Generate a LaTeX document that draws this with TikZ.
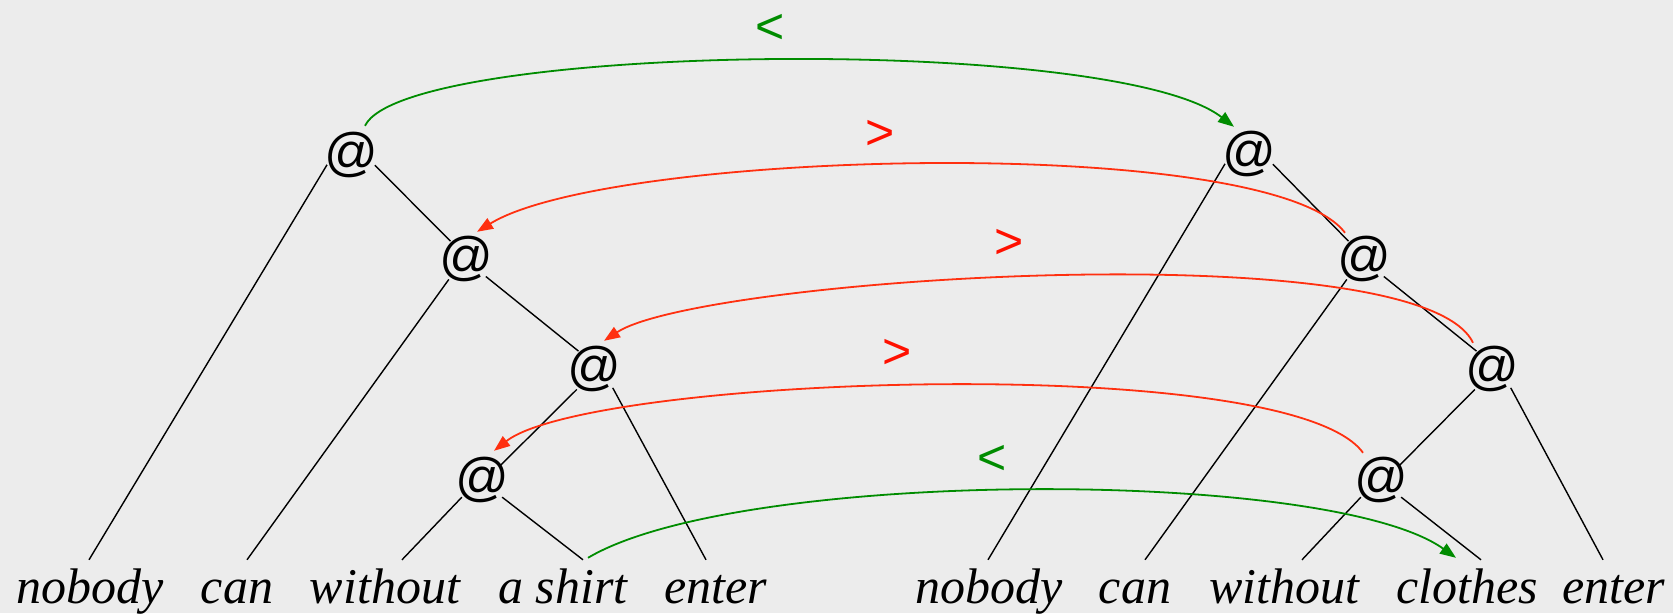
\documentclass[tikz,border=0pt]{standalone}
\usepackage{fontspec}
\newfontfamily\libserif{Liberation Serif}
\newfontfamily\libsans{Liberation Sans}
\usetikzlibrary{arrows.meta}
\definecolor{bg}{RGB}{236,236,236}
\definecolor{grn}{RGB}{0,140,0}
\definecolor{redarr}{RGB}{255,48,16}
\definecolor{redlbl}{RGB}{255,16,0}
\newcommand{\atsign}{\makebox[0pt]{\raisebox{-0.258em}{@}}}
\begin{document}
\begin{tikzpicture}[x=1pt,y=-1pt,
  atnode/.style={circle,inner sep=0pt,minimum size=50pt,text height=0pt,text depth=0pt,font=\libsans\fontsize{53}{53}\selectfont},
  wordnode/.style={inner sep=0pt,text height=34pt,text depth=12pt,anchor=base,font=\libserif\itshape\fontsize{50}{50}\selectfont},
  lbl/.style={inner sep=0pt,font=\libsans\fontsize{50}{50}\selectfont},
  tree/.style={line width=1.4pt,black},
  garrow/.style={draw=grn,line width=1.8pt,-{Triangle[length=16pt,width=12pt,fill=grn]}},
  rarrow/.style={draw=redarr,line width=1.8pt,-{Triangle[length=16pt,width=12pt,fill=redarr]}}]
\fill[bg] (0,0) rectangle (1673,613);
\useasboundingbox (0,0) rectangle (1673,613);

% left tree
\node[atnode] (A1) at (351,157) {\atsign};
\node[atnode] (A2) at (466,261) {\atsign};
\node[atnode] (A3) at (594,371) {\atsign};
\node[atnode] (A4) at (482,482) {\atsign};
\node[wordnode] (L1) at (90,603) {nobody};
\node[wordnode] (L2) at (237,603) {can};
\node[wordnode] (L3) at (385,603) {without};
\node[wordnode] (L4) at (563,603) {a shirt};
\node[wordnode] (L5) at (716,603) {enter};

% right tree
\node[atnode] (B1) at (1249,156) {\atsign};
\node[atnode] (B2) at (1364,261) {\atsign};
\node[atnode] (B3) at (1492,371) {\atsign};
\node[atnode] (B4) at (1381,482) {\atsign};
\node[wordnode] (R1) at (989,603) {nobody};
\node[wordnode] (R2) at (1135,603) {can};
\node[wordnode] (R3) at (1284,603) {without};
\node[wordnode] (R4) at (1467,603) {clothes};
\node[wordnode] (R5) at (1614,603) {enter};

% labels
\node[lbl,text=grn] (g1) at (770,29) {<};
\node[lbl,text=redlbl] (r1) at (880,135) {>};
\node[lbl,text=redlbl] (r2) at (1009,244) {>};
\node[lbl,text=redlbl] (r3) at (897,354) {>};
\node[lbl,text=grn] (g2) at (992,460) {<};

% tree edges (left)
\draw[tree] (A1.198) -- ([xshift=-1pt,yshift=9pt]L1.north);
\draw[tree] (A1.341) -- (A2.128);
\draw[tree] (A2.227) -- ([xshift=10pt,yshift=9pt]L2.north);
\draw[tree] (A2.322) -- (A3.128);
\draw[tree] (A3.227) -- (A4.42);
\draw[tree] (A3.318) -- ([xshift=-10pt,yshift=9pt]L5.north);
\draw[tree] (A4.217) -- ([xshift=17pt,yshift=9pt]L3.north);
\draw[tree] (A4.323) -- ([xshift=20pt,yshift=9pt]L4.north);

% tree edges (right)
\draw[tree] (B1.198) -- ([xshift=-1pt,yshift=9pt]R1.north);
\draw[tree] (B1.341) -- (B2.128);
\draw[tree] (B2.227) -- ([xshift=10pt,yshift=9pt]R2.north);
\draw[tree] (B2.322) -- (B3.128);
\draw[tree] (B3.227) -- (B4.42);
\draw[tree] (B3.318) -- ([xshift=-11pt,yshift=9pt]R5.north);
\draw[tree] (B4.217) -- ([xshift=18pt,yshift=9pt]R3.north);
\draw[tree] (B4.323) -- ([xshift=14pt,yshift=9pt]R4.north);

% comparison arcs
\draw[garrow] ([xshift=14pt,yshift=6pt]A1.north) .. controls +(40,-83) and +(-120,-93) .. ([xshift=-15pt,yshift=4pt]B1.north);
\draw[rarrow] ([xshift=-19pt,yshift=3pt]B2.north) .. controls +(-75,-100) and +(133,-82) .. ([xshift=11pt,yshift=4pt]A2.north);
\draw[rarrow] ([xshift=-19pt,yshift=3pt]B3.north) .. controls +(-53,-112) and +(96,-63) .. ([xshift=10pt,yshift=5pt]A3.north);
\draw[rarrow] ([xshift=-18pt,yshift=4pt]B4.north) .. controls +(-73,-102) and +(96,-75) .. ([xshift=12pt,yshift=6pt]A4.north);
\draw[garrow] ([xshift=25pt,yshift=11pt]L4.north) .. controls +(152,-90) and +(-126,-90) .. ([xshift=-11pt,yshift=11pt]R4.north);
\end{tikzpicture}
\end{document}
